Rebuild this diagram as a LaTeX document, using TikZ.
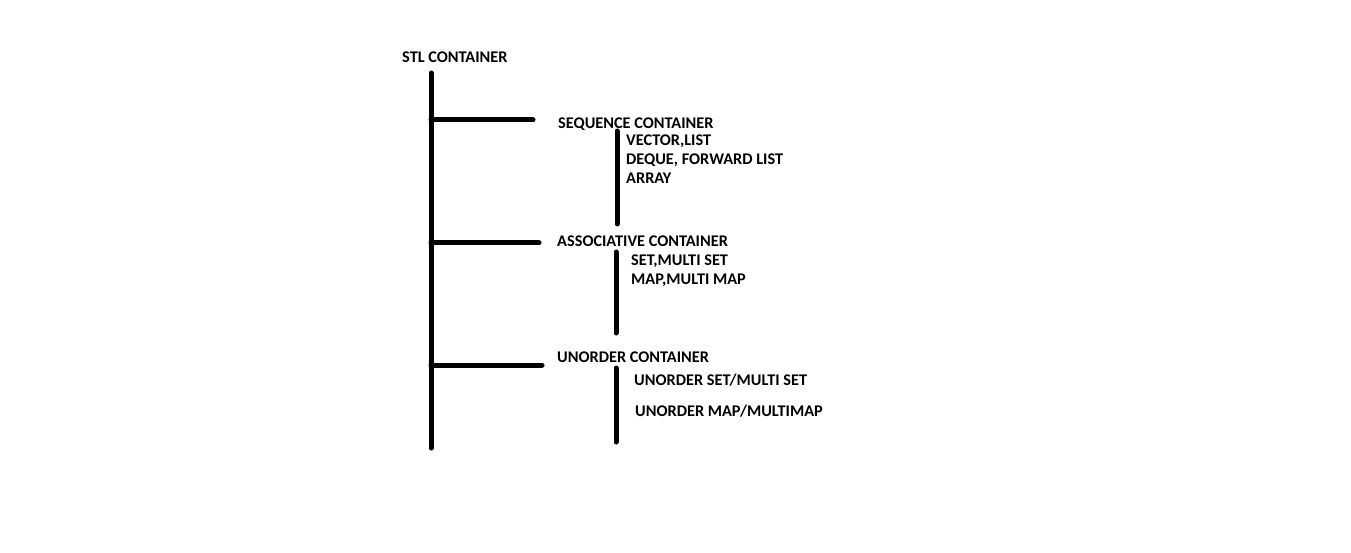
\documentclass[tikz,border=0pt]{standalone}
\usepackage{fontspec}
\setmainfont{Carlito}
\begin{document}
\begin{tikzpicture}[x=1pt,y=-1pt,
  lbl/.style={anchor=west,inner sep=0pt,font=\fontsize{16.3}{18}\selectfont\bfseries,text height=10.5pt,text depth=0pt},
  bar/.style={line width=5pt,line cap=round}]
\useasboundingbox[fill=white] (0,0) rectangle (1351,553);
% main trunk
\coordinate (t0) at (431,73);
\coordinate (t1) at (431,448);
\draw[bar] (t0) -- (t1);
\coordinate (b1) at (431,120); \coordinate (e1) at (533,120);
\coordinate (b2) at (431,243); \coordinate (e2) at (539,243);
\coordinate (b3) at (431,365); \coordinate (e3) at (542,365);
\draw[bar] (b1) -- (e1);
\draw[bar] (b2) -- (e2);
\draw[bar] (b3) -- (e3);
% sub trunks
\coordinate (s1a) at (617,131); \coordinate (s1b) at (617,224);
\coordinate (s2a) at (616,252); \coordinate (s2b) at (616,333);
\coordinate (s3a) at (616,368); \coordinate (s3b) at (616,442);
\draw[bar] (s1a) -- (s1b);
\draw[bar] (s2a) -- (s2b);
\draw[bar] (s3a) -- (s3b);
% labels
\node[lbl] (stl) at (402,57.5) {STL CONTAINER};
\node[lbl] (seq) at (558,123.5) {SEQUENCE CONTAINER};
\node[lbl] (v1) at (626,140.5) {VECTOR,LIST};
\node[lbl] (v2) at (626,159.5) {DEQUE, FORWARD LIST};
\node[lbl] (v3) at (626,178.5) {ARRAY};
\node[lbl] (asc) at (557,241.5) {ASSOCIATIVE CONTAINER};
\node[lbl] (a1) at (631,260.5) {SET,MULTI SET};
\node[lbl] (a2) at (631,279.5) {MAP,MULTI MAP};
\node[lbl] (uno) at (557,357.5) {UNORDER CONTAINER};
\node[lbl] (u1) at (634,380.5) {UNORDER SET/MULTI SET};
\node[lbl] (u2) at (635,411.5) {UNORDER MAP/MULTIMAP};
\end{tikzpicture}
\end{document}
